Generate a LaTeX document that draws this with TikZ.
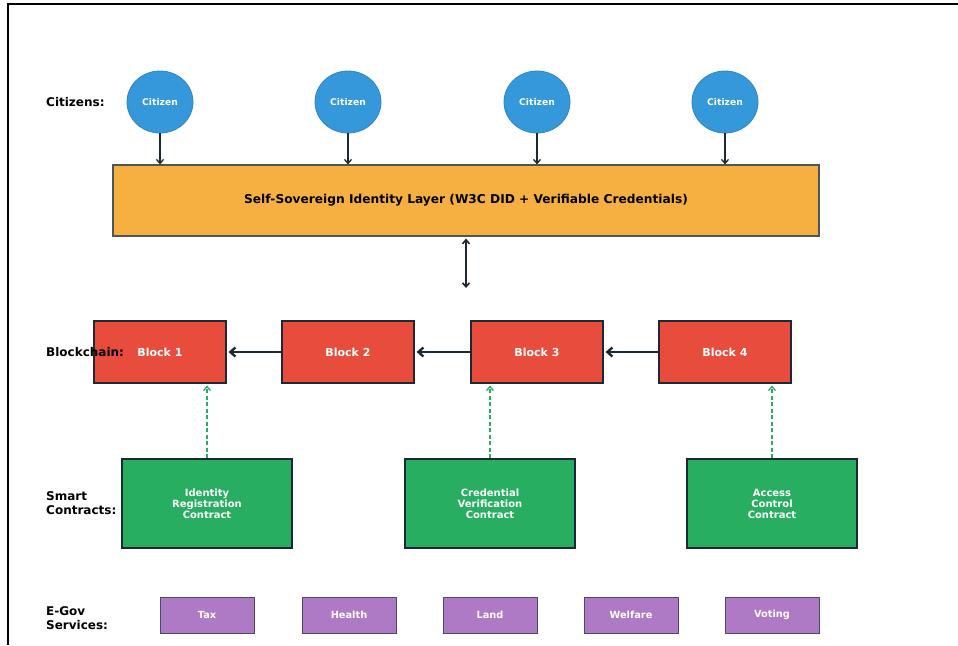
\documentclass[tikz,border=0pt]{standalone}
\usepackage{fontspec}
\setmainfont{DejaVu Sans}
\usepackage{xcolor}
\usepackage{tikz}
\usetikzlibrary{positioning,calc,arrows.meta,shapes.geometric}
\definecolor{CitizenBlue}{HTML}{3498DB}
\definecolor{CitizenEdge}{HTML}{2E86C1}
\definecolor{SSIOrange}{HTML}{F5B041}
\definecolor{SSIEdge}{HTML}{4D5656}
\definecolor{BlockRed}{HTML}{E74C3C}
\definecolor{DarkNavy}{HTML}{1C2833}
\definecolor{ContractGreen}{HTML}{27AE60}
\definecolor{ServicePurple}{HTML}{AF7AC5}
\definecolor{ServiceEdge}{HTML}{4A4A6A}

\tikzset{
    rowlabel/.style={anchor=west, align=left, font=\bfseries\fontsize{12}{14}\selectfont, inner sep=0pt},
    citizen/.style={ellipse, draw=CitizenEdge, fill=CitizenBlue, line width=0.8pt,
        minimum width=66pt, minimum height=62pt, inner sep=0pt, text=white,
        font=\bfseries\fontsize{9.2}{10}\selectfont},
    ssilayer/.style={draw=SSIEdge, fill=SSIOrange, line width=1.2pt,
        minimum width=706pt, minimum height=71pt, font=\bfseries\fontsize{12.2}{14}\selectfont},
    chainblock/.style={draw=DarkNavy, fill=BlockRed, line width=1.2pt,
        minimum width=132pt, minimum height=62pt, text=white,
        font=\bfseries\fontsize{11}{13}\selectfont},
    contract/.style={draw=DarkNavy, fill=ContractGreen, line width=1.2pt,
        minimum width=170pt, minimum height=89pt, text=white, align=center,
        font=\bfseries\fontsize{10}{11}\selectfont},
    service/.style={draw=ServiceEdge, fill=ServicePurple, line width=1pt,
        minimum width=94pt, minimum height=36pt, text=white,
        font=\bfseries\fontsize{9.8}{11}\selectfont},
    thinarrow/.style={-{Straight Barb[length=4pt,width=7pt]}, draw=DarkNavy, line width=1.3pt},
    chainarrow/.style={-{Straight Barb[length=5pt,width=9pt]}, draw=DarkNavy, line width=2.4pt},
    linkarrow/.style={{Straight Barb[length=4pt,width=7pt]}-{Straight Barb[length=4pt,width=7pt]},
        draw=DarkNavy, line width=1.6pt},
    deployarrow/.style={-{Straight Barb[length=4pt,width=7pt]}, draw=ContractGreen,
        line width=1.3pt, dash pattern=on 4pt off 2.5pt}
}

\begin{document}
\begin{tikzpicture}[x=1pt,y=-1pt]
    \useasboundingbox (0,0) rectangle (958,645);
    % frame (cut off at right and bottom)
    \draw[line width=1.6pt, black] (8,645) -- (8,4) -- (958,4);

    % citizens
    \foreach \i/\x in {1/160,2/348,3/537,4/725}
        \node[citizen] (cit\i) at (\x,102) {Citizen};

    % identity layer
    \node[ssilayer] (ssi) at (466,200.5) {Self-Sovereign Identity Layer (W3C DID + Verifiable Credentials)};
    \foreach \i in {1,...,4}
        \draw[thinarrow] (cit\i.south) -- (ssi.north -| cit\i);
    \coordinate (chainin) at (466,288);
    \draw[linkarrow, shorten <=2pt] (ssi.south) -- (chainin);

    % blockchain
    \foreach \i/\x in {1/160,2/348,3/537,4/725}
        \node[chainblock] (blk\i) at (\x,352) {Block \i};
    \foreach \i/\j in {2/1,3/2,4/3}
        \draw[chainarrow, shorten >=2pt] (blk\i.west) -- (blk\j.east);

    % smart contracts
    \node[contract] (sc1) at (207,503.5) {Identity\\Registration\\Contract};
    \node[contract] (sc2) at (490,503.5) {Credential\\Verification\\Contract};
    \node[contract] (sc3) at (772,503.5) {Access\\Control\\Contract};
    \draw[deployarrow, shorten >=2pt] (sc1.north) -- (blk1.south -| sc1);
    \draw[deployarrow, shorten >=2pt] (sc2.north) -- (blk3.south -| sc2);
    \draw[deployarrow, shorten >=2pt] (sc3.north) -- (blk4.south -| sc3);

    % e-gov services
    \foreach \i/\x/\name in {1/207/Tax,2/349/Health,3/490/Land,4/631/Welfare,5/772/Voting}
        \node[service] (svc\i) at (\x,615) {\name};

    % row labels (drawn last, on top)
    \node[rowlabel] (lblcit) at (46,102) {Citizens:};
    \node[rowlabel] (lblchain) at (46,352) {Blockchain:};
    \node[rowlabel] (lblsc) at (46,503) {Smart\\Contracts:};
    \node[rowlabel] (lblgov) at (46,618) {E-Gov\\Services:};
\end{tikzpicture}
\end{document}
